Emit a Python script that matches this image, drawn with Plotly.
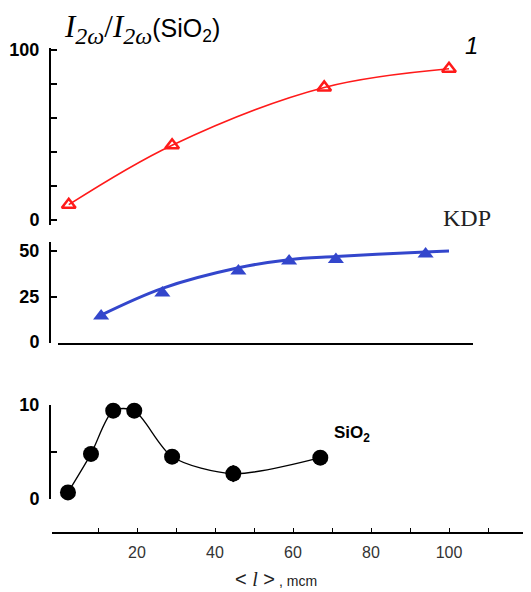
import plotly.graph_objects as go

# ---- data ----
quartz_x = [2.5, 29, 68, 100]
quartz_y = [9, 44, 78, 89]

kdp_x = [10.8, 26.5, 46, 59, 71, 94]
kdp_y = [14.3, 27, 39, 44.5, 45.4, 48.4]
kdp_fit_x = [10.8, 26.5, 46, 59, 71, 94, 100]
kdp_fit_y = [14.8, 29.5, 40.8, 45.3, 47, 49.5, 50]

sio2_x = [2.3, 8.2, 13.9, 19.3, 29, 44.7, 67]
sio2_y = [0.7, 4.8, 9.4, 9.4, 4.5, 2.7, 4.4]
sio2_err = [0, 0, 0, 0, 0, 0.9, 0]

x_tickvals = [20, 40, 60, 80, 100]
x_ticktext = ["20", "40", "60", "80", "100"]
x_minorvals = [10, 30, 50, 70, 90, 110]

W, H = 531, 592
OFF = 8  # the page body margin shifts the figure by this many pixels
X0, XSCALE = 59.0, 3.9  # screen pixel of x=0 and pixels per unit of the shared x scale


def px(x):
    return (x - OFF) / W


def py(y):
    return 1 - (y - OFF) / H


def xr(a, b):
    return [(a - X0) / XSCALE, (b - X0) / XSCALE]


RED = "#ff1a1a"
BLUE = "#3346cc"
SANS = "Liberation Sans, Arial"
SERIF = "Liberation Serif, Times New Roman"

fig = go.Figure()

fig.add_trace(go.Scatter(
    x=quartz_x, y=quartz_y, xaxis="x", yaxis="y3", mode="lines+markers",
    line=dict(color=RED, width=1.6, shape="spline", smoothing=1.0),
    marker=dict(symbol="triangle-up-open", size=12, color=RED, line=dict(width=2.5, color=RED)),
    cliponaxis=False, showlegend=False))

fig.add_trace(go.Scatter(
    x=kdp_fit_x, y=kdp_fit_y, xaxis="x2", yaxis="y2", mode="lines",
    line=dict(color=BLUE, width=3, shape="spline", smoothing=1.0),
    cliponaxis=False, showlegend=False))
fig.add_trace(go.Scatter(
    x=kdp_x, y=kdp_y, xaxis="x2", yaxis="y2", mode="markers",
    marker=dict(symbol="triangle-up", size=14, color=BLUE),
    cliponaxis=False, showlegend=False))

fig.add_trace(go.Scatter(
    x=sio2_x, y=sio2_y, xaxis="x", yaxis="y", mode="lines+markers",
    line=dict(color="black", width=1.3, shape="spline", smoothing=0.8),
    marker=dict(symbol="circle", size=16, color="black"),
    error_y=dict(type="data", array=sio2_err, visible=True, color="black", thickness=2, width=0),
    cliponaxis=False, showlegend=False))

yfont = dict(family=SANS, size=18, color="black", weight="bold")
common_y = dict(anchor="free", position=px(50), showline=True, linecolor="black",
                linewidth=2, ticks="inside", ticklen=6, tickwidth=2, tickcolor="black",
                showgrid=False, zeroline=False, tickfont=yfont, ticklabelstandoff=6,
                automargin=False)
ymin = dict(ticks="inside", ticklen=6, tickwidth=2, tickcolor="black", showgrid=False)

fig.update_layout(
    width=W, height=H, autosize=False,
    margin=dict(l=0, r=0, t=0, b=0, pad=0, autoexpand=False),
    paper_bgcolor="white", plot_bgcolor="white",
    xaxis=dict(domain=[px(52), 1], range=xr(52, W + OFF), anchor="free", position=py(533),
               showline=True, linecolor="black", linewidth=2, ticks="inside", ticklen=4,
               tickcolor="black", tickwidth=1, tickvals=x_tickvals, ticktext=x_ticktext,
               minor=dict(tickvals=x_minorvals, ticks="inside", ticklen=4, tickwidth=1,
                          tickcolor="black", showgrid=False),
               showgrid=False, zeroline=False, ticklabelstandoff=5, automargin=False,
               tickfont=dict(family=SANS, size=16, color="#333")),
    xaxis2=dict(domain=[px(58), px(473)], range=xr(58, 473), anchor="y2", showline=True,
                linecolor="black", linewidth=2, ticks="", showticklabels=False,
                showgrid=False, zeroline=False, automargin=False),
    yaxis=dict(domain=[py(499), py(405)], range=[0, 10], tickvals=[0, 10],
               minor=dict(tickvals=[5], **ymin), **common_y),
    yaxis2=dict(domain=[py(343), py(242)], range=[-0.55, 55], tickvals=[0, 25, 50],
                **common_y),
    yaxis3=dict(domain=[py(225), py(48)], range=[-2.94, 101.18], tickvals=[0, 100],
                minor=dict(tickvals=[20, 40, 60, 80], **ymin), **common_y),
)

sub = "<sub><span style='font-size:24px'><i>2ω</i></span></sub>"
ann = []
ann.append(dict(x=px(62), y=py(51), xref="paper", yref="paper", xanchor="left", yanchor="bottom",
                showarrow=False,
                text="<i>I</i>" + sub + "/<i>I</i>" + sub +
                     "<span style='font-family:Liberation Sans, Arial;font-size:25px'>(SiO<sub>2</sub>)</span>",
                font=dict(family=SERIF, size=31, color="black")))
ann.append(dict(x=px(471), y=py(45), xref="paper", yref="paper", xanchor="center", yanchor="middle",
                showarrow=False, text="<i>1</i>",
                font=dict(family=SANS, size=24, color="black")))
ann.append(dict(x=px(467), y=py(218), xref="paper", yref="paper", xanchor="center", yanchor="middle",
                showarrow=False, text="KDP",
                font=dict(family=SERIF, size=24, color="#222")))
ann.append(dict(x=px(332), y=py(434), xref="paper", yref="paper", xanchor="left", yanchor="middle",
                showarrow=False, text="<b>SiO<sub>2</sub></b>",
                font=dict(family=SANS, size=17, color="black")))
ann.append(dict(x=px(276), y=py(579), xref="paper", yref="paper", xanchor="center", yanchor="middle",
                showarrow=False,
                text="< <span style='font-family:Liberation Serif, Times New Roman'><i>l</i></span> >"
                     "<span style='font-size:14px'> , mcm</span>",
                font=dict(family=SANS, size=20, color="#222")))
fig.update_layout(annotations=ann)

fig.write_html("out.html")
